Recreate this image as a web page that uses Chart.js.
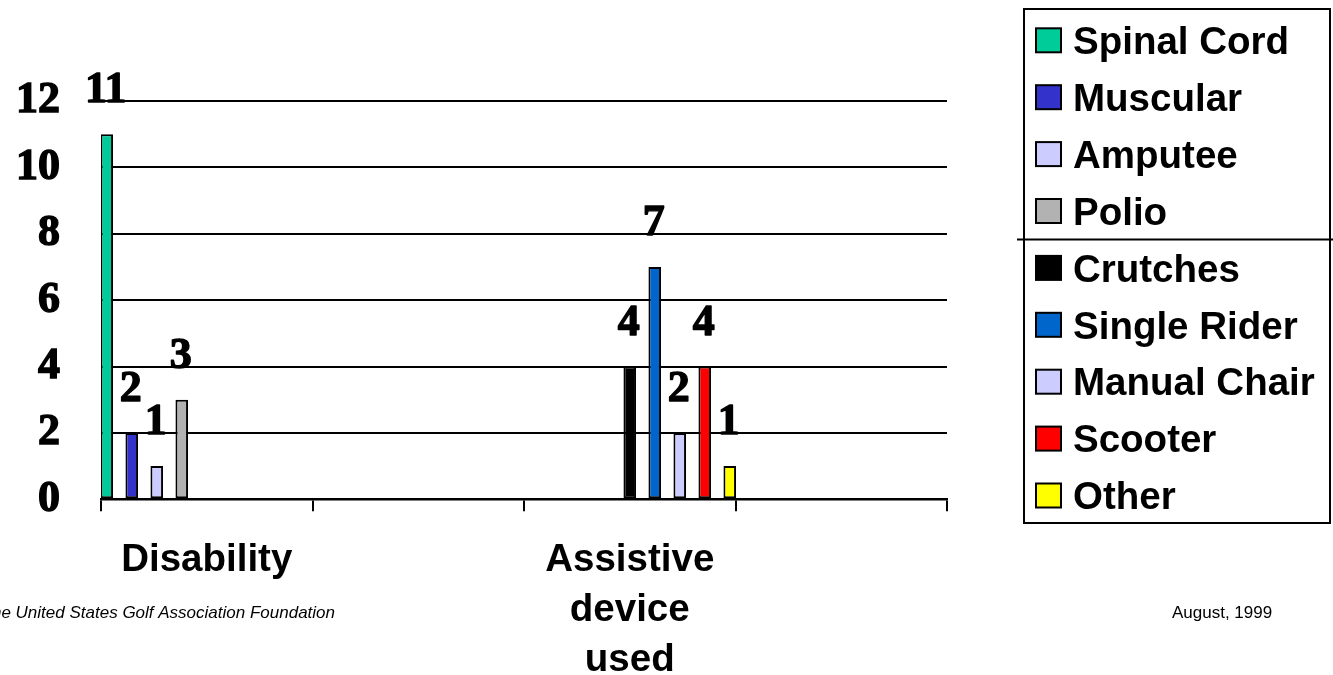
<!DOCTYPE html>
<html>
<head>
<meta charset="utf-8">
<title>Disability and assistive device used</title>
<script src="https://cdn.jsdelivr.net/npm/chart.js@4.4.1/dist/chart.umd.min.js"></script>
<style>
  html, body { margin: 0; padding: 0; background: #ffffff; }
  canvas { display: block; }
</style>
</head>
<body>
<canvas id="chart" width="1333" height="675"></canvas>
<script>
// ---- data ----
const categories = ['Disability', '', ['Assistive', 'device', 'used'], ''];
const disabilityTypes = ['Spinal Cord', 'Muscular', 'Amputee', 'Polio'];
const disabilityCounts = [11, 2, 1, 3];
const deviceTypes = ['Crutches', 'Single Rider', 'Manual Chair', 'Scooter', 'Other'];
const deviceCounts = [4, 7, 2, 4, 1];
const yAxisMax = 12;
const yAxisStep = 2;
const sourceNote = 'The United States Golf Association Foundation';
const dateNote = 'August, 1999';

// ---- styles ----
const disabilityColors = ['#00CC99', '#3333CC', '#CCCCFF', '#B2B2B2'];
const deviceColors = ['#000000', '#0066CC', '#CCCCFF', '#FF0000', '#FFFF00'];
const SERIF_FAMILY = '"Liberation Serif", "Times New Roman", serif';
const SERIF_BOLD = 'bold 44px ' + SERIF_FAMILY;
const SANS_BOLD = 'bold 38.5px "Liberation Sans", Arial, sans-serif';

// one value per series, placed in its own category slot
function seriesAt(catIndex, value) {
  const d = categories.map(() => null);
  d[catIndex] = value;
  return d;
}

const barStyle = {
  borderColor: '#000000',
  borderWidth: 2,
  borderSkipped: false,
  categoryPercentage: 1.0638,
  barPercentage: 0.504
};

const datasets = [
  ...disabilityTypes.map((name, i) => Object.assign({
    label: name,
    data: seriesAt(0, disabilityCounts[i]),
    backgroundColor: disabilityColors[i]
  }, barStyle)),
  ...deviceTypes.map((name, i) => Object.assign({
    label: name,
    data: seriesAt(2, deviceCounts[i]),
    backgroundColor: deviceColors[i]
  }, barStyle))
];

// numbers above each bar
const valueLabels = {
  id: 'valueLabels',
  afterDatasetsDraw(chart) {
    const ctx = chart.ctx;
    ctx.save();
    ctx.font = SERIF_BOLD;
    ctx.fillStyle = '#000000';
    ctx.strokeStyle = '#000000';
    ctx.lineWidth = 1.4;
    ctx.lineJoin = 'round';
    ctx.textAlign = 'center';
    ctx.textBaseline = 'alphabetic';
    chart.data.datasets.forEach((ds, di) => {
      chart.getDatasetMeta(di).data.forEach((bar, i) => {
        const v = ds.data[i];
        if (v === null || v === undefined) return;
        ctx.strokeText(String(v), bar.x - 1, bar.y - 32);
        ctx.fillText(String(v), bar.x - 1, bar.y - 32);
      });
    });
    ctx.restore();
  }
};

// framed legend with a rule between the two groups
const legendBox = {
  id: 'legendBox',
  afterDraw(chart) {
    const ctx = chart.ctx;
    const left = 1024, right = 1330, top = 9, bottom = 523;
    const firstRow = 40.3, pitch = 56.9;
    ctx.save();
    ctx.strokeStyle = '#000000';
    ctx.lineWidth = 2;
    ctx.strokeRect(left, top, right - left, bottom - top);

    const split = disabilityTypes.length;
    const divY = firstRow + (split - 0.5) * pitch;
    ctx.beginPath();
    ctx.moveTo(1017, divY);
    ctx.lineTo(1333, divY);
    ctx.stroke();

    ctx.font = SANS_BOLD;
    ctx.textAlign = 'left';
    ctx.textBaseline = 'alphabetic';
    chart.data.datasets.forEach((ds, i) => {
      const cy = firstRow + i * pitch;
      ctx.fillStyle = ds.backgroundColor;
      ctx.fillRect(1036, cy - 12, 25, 24);
      ctx.lineWidth = 2;
      ctx.strokeStyle = '#000000';
      ctx.strokeRect(1036, cy - 12, 25, 24);
      ctx.fillStyle = '#000000';
      ctx.fillText(ds.label, 1073, cy + 13.7);
    });
    ctx.restore();
  }
};

// source and date lines along the bottom
const footerNotes = {
  id: 'footerNotes',
  afterDraw(chart) {
    const ctx = chart.ctx;
    ctx.save();
    ctx.fillStyle = '#000000';
    ctx.textBaseline = 'alphabetic';
    ctx.font = 'italic 17px "Liberation Sans", Arial, sans-serif';
    ctx.textAlign = 'right';
    ctx.fillText(sourceNote, 335, 618);
    ctx.font = '17px "Liberation Sans", Arial, sans-serif';
    ctx.textAlign = 'left';
    ctx.fillText(dateNote, 1172, 618);
    ctx.restore();
  }
};

new Chart(document.getElementById('chart'), {
  type: 'bar',
  data: { labels: categories, datasets: datasets },
  plugins: [valueLabels, legendBox, footerNotes],
  options: {
    responsive: false,
    animation: false,
    layout: { padding: { top: 101, right: 386, bottom: 0, left: 0 } },
    plugins: {
      legend: { display: false },
      tooltip: { enabled: false },
      title: { display: false }
    },
    scales: {
      x: {
        offset: true,
        grid: {
          offset: true,
          drawOnChartArea: false,
          drawTicks: true,
          tickLength: 12,
          color: '#000000',
          lineWidth: 2
        },
        border: { display: true, color: '#000000', width: 2.5 },
        ticks: {
          color: '#000000',
          font: { family: '"Liberation Sans", Arial, sans-serif', size: 38.5, weight: 'bold', lineHeight: 1.3 },
          padding: 24,
          maxRotation: 0,
          autoSkip: false
        },
        afterFit(scale) { scale.height = 175.7; }
      },
      y: {
        min: 0,
        max: yAxisMax,
        ticks: {
          stepSize: yAxisStep,
          color: '#000000',
          font: { family: SERIF_FAMILY, size: 44, weight: 'bold' },
          textStrokeColor: '#000000',
          textStrokeWidth: 1.4,
          padding: 41
        },
        grid: {
          color: '#000000',
          lineWidth: 2,
          drawTicks: false
        },
        border: { display: false },
        afterFit(scale) { scale.width = 101; }
      }
    }
  }
});
</script>
</body>
</html>
